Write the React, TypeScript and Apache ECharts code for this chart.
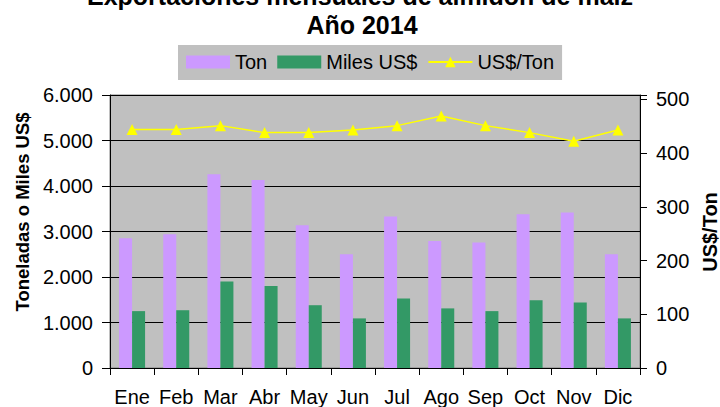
import React, { useEffect, useRef } from "react";
import * as echarts from "echarts";

const titleLine1 = "Exportaciones mensuales de almidón de maíz";
const titleLine2 = "Año 2014";
const categories = ["Ene", "Feb", "Mar", "Abr", "May", "Jun", "Jul", "Ago", "Sep", "Oct", "Nov", "Dic"];
const toneladas = [2850, 2940, 4260, 4130, 3140, 2500, 3330, 2790, 2760, 3380, 3420, 2500];
const milesUSD = [1250, 1270, 1900, 1800, 1380, 1090, 1530, 1310, 1250, 1490, 1440, 1090];
const usdPorTon = [444, 444, 451, 438, 438, 443, 451, 469, 451, 438, 422, 443];
const seriesNames = ["Ton", "Miles US$", "US$/Ton"];
const leftAxisName = "Toneladas o Miles US$";
const rightAxisName = "US$/Ton";

const FONT = 'Arial, "Liberation Sans", sans-serif';

export default function App() {
  const ref = useRef<HTMLDivElement>(null);
  useEffect(() => {
    document.body.style.margin = "0";
    const chart = echarts.init(ref.current!, null, { renderer: "svg" });
    const fmtThousands = (v: number) =>
      String(Math.round(v)).replace(/\B(?=(\d{3})+(?!\d))/g, ".");
    chart.setOption({
      animation: false,
      backgroundColor: "#ffffff",
      textStyle: { fontFamily: FONT },
      graphic: [
        {
          type: "text",
          x: 360,
          y: -4,
          style: {
            text: titleLine1,
            font: `bold 25px ${FONT}`,
            fill: "#000",
            align: "center",
            verticalAlign: "middle",
          },
        },
        {
          type: "text",
          x: 362,
          y: 25,
          style: {
            text: titleLine2,
            font: `bold 25px ${FONT}`,
            fill: "#000",
            align: "center",
            verticalAlign: "middle",
          },
        },
        {
          type: "text",
          x: 22,
          y: 212,
          rotation: Math.PI / 2,
          style: {
            text: leftAxisName,
            font: `bold 18.5px ${FONT}`,
            fill: "#000",
            align: "center",
            verticalAlign: "middle",
          },
        },
        {
          type: "text",
          x: 710,
          y: 232,
          rotation: Math.PI / 2,
          style: {
            text: rightAxisName,
            font: `bold 20px ${FONT}`,
            fill: "#000",
            align: "center",
            verticalAlign: "middle",
          },
        },
      ],
      legend: {
        left: 178,
        top: 45,
        padding: [7, 8, 8, 8],
        itemGap: 10,
        itemWidth: 44,
        itemHeight: 13,
        backgroundColor: "#c0c0c0",
        textStyle: { fontSize: 20, color: "#000", fontFamily: FONT },
        data: [
          { name: seriesNames[0], icon: "rect" },
          { name: seriesNames[1], icon: "rect" },
          { name: seriesNames[2] },
        ],
      },
      grid: {
        left: 110,
        right: 80,
        top: 95,
        bottom: 39,
        show: true,
        backgroundColor: "#c0c0c0",
        borderColor: "#808080",
        borderWidth: 1,
      },
      xAxis: {
        type: "category",
        data: categories,
        axisLine: { lineStyle: { color: "#000", width: 1 } },
        axisTick: { show: true, length: 7, lineStyle: { color: "#000" } },
        axisLabel: {
          interval: 0,
          hideOverlap: false,
          fontSize: 20,
          color: "#000",
          margin: 19,
          fontFamily: FONT,
        },
      },
      yAxis: [
        {
          type: "value",
          min: 0,
          max: 6000,
          interval: 1000,
          axisLine: { show: true, lineStyle: { color: "#000", width: 1 } },
          axisTick: { show: true, length: 8, lineStyle: { color: "#000" } },
          axisLabel: {
            fontSize: 20,
            color: "#000",
            margin: 17,
            fontFamily: FONT,
            formatter: (v: number) => fmtThousands(v),
          },
          splitLine: { show: true, lineStyle: { color: "#000", width: 1 } },
        },
        {
          type: "value",
          min: 0,
          max: 508,
          interval: 100,
          position: "right",
          axisLine: { show: true, lineStyle: { color: "#000", width: 1 } },
          axisTick: { show: true, length: 7, lineStyle: { color: "#000" } },
          axisLabel: {
            fontSize: 20,
            color: "#000",
            margin: 16,
            fontFamily: FONT,
            formatter: (v: number) => (v % 100 === 0 ? String(v) : ""),
          },
          splitLine: { show: false },
        },
      ],
      series: [
        {
          name: seriesNames[0],
          type: "bar",
          data: toneladas,
          barWidth: 13,
          barGap: "0%",
          itemStyle: { color: "#cc99ff" },
        },
        {
          name: seriesNames[1],
          type: "bar",
          data: milesUSD,
          barWidth: 13,
          barGap: "0%",
          itemStyle: { color: "#339966" },
        },
        {
          name: seriesNames[2],
          type: "line",
          yAxisIndex: 1,
          data: usdPorTon,
          symbol: "triangle",
          symbolSize: 11,
          lineStyle: { color: "#ffff00", width: 1.5 },
          itemStyle: { color: "#ffff00" },
        },
      ],
    });
    return () => chart.dispose();
  }, []);
  return (
    <div
      ref={ref}
      style={{ position: "absolute", left: 0, top: 0, width: 720, height: 407 }}
    />
  );
}
